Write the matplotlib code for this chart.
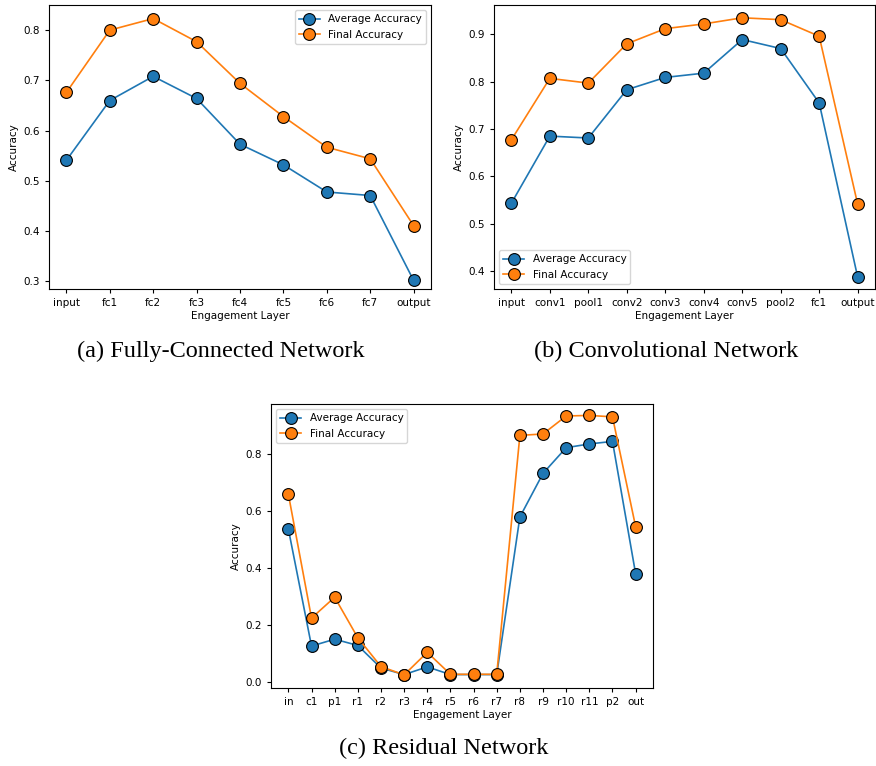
import matplotlib
matplotlib.use("Agg")
import matplotlib.pyplot as plt

# fully-connected network
fc_layers = ["input", "fc1", "fc2", "fc3", "fc4", "fc5", "fc6", "fc7", "output"]
fc_avg = [0.541, 0.660, 0.708, 0.664, 0.573, 0.532, 0.478, 0.471, 0.302]
fc_final = [0.676, 0.800, 0.823, 0.777, 0.694, 0.628, 0.567, 0.544, 0.411]

# convolutional network
conv_layers = ["input", "conv1", "pool1", "conv2", "conv3", "conv4", "conv5", "pool2", "fc1", "output"]
conv_avg = [0.543, 0.685, 0.681, 0.783, 0.809, 0.818, 0.889, 0.870, 0.755, 0.387]
conv_final = [0.677, 0.807, 0.797, 0.880, 0.912, 0.922, 0.935, 0.931, 0.896, 0.541]

# residual network
res_layers = ["in", "c1", "p1", "r1", "r2", "r3", "r4", "r5", "r6", "r7", "r8", "r9", "r10", "r11", "p2", "out"]
res_avg = [0.537, 0.127, 0.151, 0.129, 0.050, 0.027, 0.054, 0.027, 0.027, 0.027,
           0.579, 0.732, 0.822, 0.835, 0.844, 0.380]
res_final = [0.659, 0.225, 0.298, 0.156, 0.055, 0.026, 0.105, 0.028, 0.028, 0.028,
             0.865, 0.870, 0.933, 0.935, 0.930, 0.545]

W, H = 876, 766
fig = plt.figure(figsize=(W / 100, H / 100), dpi=100)


def make_axes(left, top, right, bottom):
    return fig.add_axes([left / W, 1 - bottom / H, (right - left) / W, (bottom - top) / H])


def draw(ax, layers, avg, final, loc):
    x = list(range(len(layers)))
    ax.plot(x, avg, "-o", color="#1f77b4", mfc="#1f77b4", mec="black", mew=0.8,
            ms=8.5, lw=1.2, label="Average Accuracy")
    ax.plot(x, final, "-o", color="#ff7f0e", mfc="#ff7f0e", mec="black", mew=0.8,
            ms=8.5, lw=1.2, label="Final Accuracy")
    ax.set_xticks(x)
    ax.set_xticklabels(layers)
    ax.tick_params(labelsize=7.5, length=3)
    ax.set_xlabel("Engagement Layer", fontsize=7.5, labelpad=2)
    ax.set_ylabel("Accuracy", fontsize=7.5, labelpad=3)
    ax.legend(loc=loc, fontsize=7.5, framealpha=0.8)


ax1 = make_axes(49, 5, 431, 289)
draw(ax1, fc_layers, fc_avg, fc_final, "upper right")
ax1.set_ylim(0.285, 0.85)
ax1.set_yticks([0.3, 0.4, 0.5, 0.6, 0.7, 0.8])

ax2 = make_axes(494, 5, 875, 289)
draw(ax2, conv_layers, conv_avg, conv_final, "lower left")
ax2.set_ylim(0.362, 0.962)
ax2.set_yticks([0.4, 0.5, 0.6, 0.7, 0.8, 0.9])

ax3 = make_axes(271, 404, 653, 688)
draw(ax3, res_layers, res_avg, res_final, "upper left")
ax3.set_ylim(-0.02, 0.975)
ax3.set_yticks([0.0, 0.2, 0.4, 0.6, 0.8])

cap = dict(fontsize=17.5, family="Liberation Serif", ha="center", va="center")
fig.text(221 / W, 1 - 351 / H, "(a) Fully-Connected Network", **cap)
fig.text(666 / W, 1 - 351 / H, "(b) Convolutional Network", **cap)
fig.text(444 / W, 1 - 748 / H, "(c) Residual Network", **cap)

fig.savefig("out.png", dpi=100)
